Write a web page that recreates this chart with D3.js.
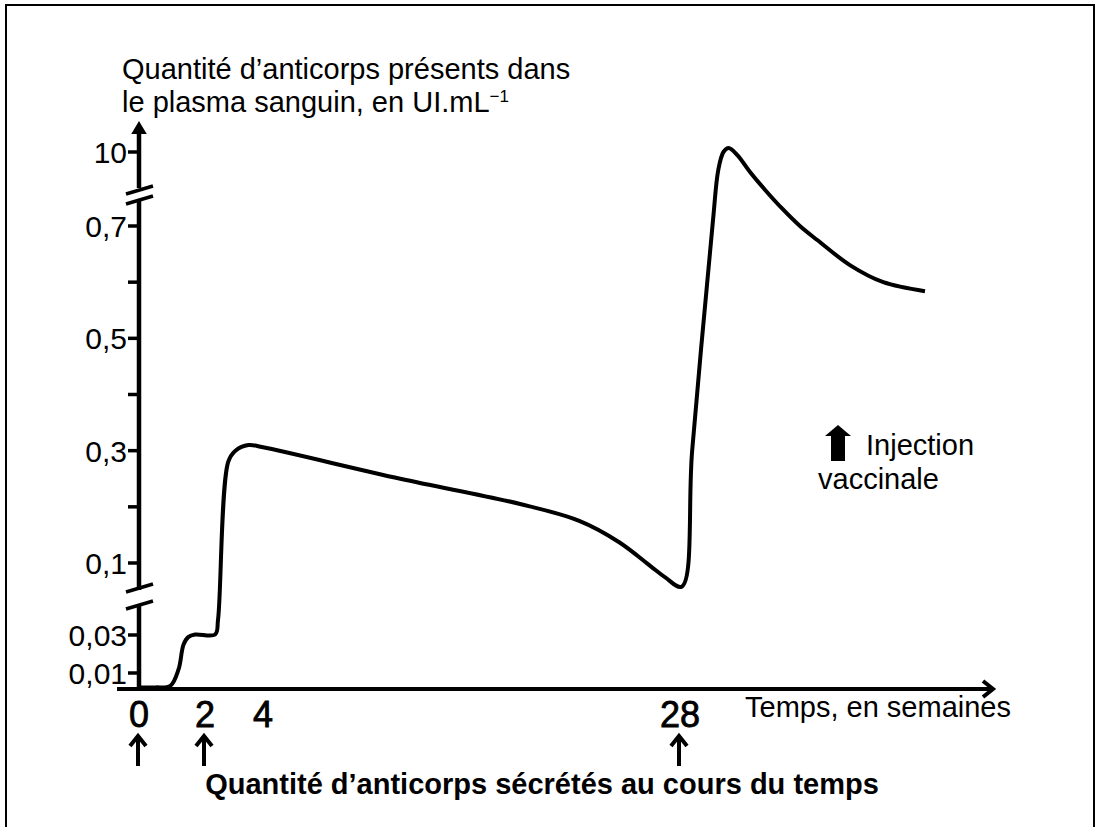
<!DOCTYPE html>
<html>
<head>
<meta charset="utf-8">
<script src="https://cdn.jsdelivr.net/npm/d3@7"></script>
<style>
  body { margin: 0; background: #fff; }
  text { font-family: "Liberation Sans", Arial, sans-serif; fill: #000; }
</style>
</head>
<body>
<div id="antibodyPlot"></div>
<script>
// data (weeks, UI/mL)
const weeks = [0, 0.5, 0.95, 1.2, 1.35, 1.5, 1.7, 2.35, 2.45, 2.8, 3.05, 3.5, 4, 11.9, 18.8, 22.2, 24.5, 26.3, 27.15, 28.1,
    28.7, 29.9, 30.2, 30.5, 30.8, 31.3, 32.03, 32.9, 33.9, 34.9, 35.9, 37.8, 39.7, 42.1]
const antibodies = [0.001, 0.001, 0.002, 0.012, 0.025, 0.029, 0.0305, 0.0305, 0.045, 0.28, 0.3, 0.31, 0.306, 0.25, 0.205, 0.175, 0.137, 0.097, 0.086, 0.077,
    0.3, 1.45, 7.7, 10, 10.5, 9.62, 7.49, 5.23, 2.84, 0.7, 0.675, 0.63, 0.6, 0.584]

// the axes are not drawn to scale: both are broken / piecewise
const xBreaks = [0, 2, 4, 28]
const yBreaks = [0, 0.01, 0.03, 0.1, 0.7, 10]

const xTickValues = [0, 2, 4, 28]
const xTickLabels = ["0", "2", "4", "28"]
const injectionWeeks = [0, 2, 28]

const yTickValues = [0.01, 0.03, 0.1, 0.3, 0.5, 0.7, 10]
const yTickLabels = ["0,01", "0,03", "0,1", "0,3", "0,5", "0,7", "10"]
const yMinorTicks = [0.2, 0.4, 0.6]

const width = 1099, height = 827

const x = d3.scaleLinear().domain(xBreaks).range([139, 205, 263, 680])
const y = d3.scaleLinear().domain(yBreaks).range([689, 673, 635, 563, 226, 152])

const svg = d3.select("#antibodyPlot")
    .append("svg")
    .attr("width", width)
    .attr("height", height)

// frame (open at the bottom)
svg.append("path")
    .attr("d", `M6,${height} V5 H1094 V${height}`)
    .attr("fill", "none")
    .attr("stroke", "#000")
    .attr("stroke-width", 2)

const x0 = x(0), yBase = y(0)

// x axis with arrow
svg.append("line")
    .attr("x1", 117).attr("x2", 992)
    .attr("y1", yBase).attr("y2", yBase)
    .attr("stroke", "#000").attr("stroke-width", 4)
svg.append("path")
    .attr("d", `M983,${yBase - 8} L993,${yBase} L983,${yBase + 8}`)
    .attr("fill", "none").attr("stroke", "#000").attr("stroke-width", 4)

// y axis, split at the two breaks
const yAxisSegments = [
    [yBase + 2, 605],
    [590, 200],
    [188, 130]
]
yAxisSegments.forEach(([a, b]) => {
    svg.append("line")
        .attr("x1", x0).attr("x2", x0)
        .attr("y1", a).attr("y2", b)
        .attr("stroke", "#000").attr("stroke-width", 4.5)
})
svg.append("path")
    .attr("d", `M${x0 - 6},${133} L${x0},${123} L${x0 + 6},${133} Z`)
    .attr("fill", "#000").attr("stroke", "#000").attr("stroke-width", 2)

// break marks
const breakMarks = [[190, 200], [588, 605]]
breakMarks.forEach(([a, b]) => {
    [a, b].forEach(yy => {
        svg.append("line")
            .attr("x1", x0 - 13).attr("x2", x0 + 14)
            .attr("y1", yy + 4).attr("y2", yy - 4)
            .attr("stroke", "#000").attr("stroke-width", 3.5)
    })
})

// y ticks + labels
yTickValues.concat(yMinorTicks).forEach(v => {
    svg.append("line")
        .attr("x1", x0 - 11).attr("x2", x0)
        .attr("y1", y(v)).attr("y2", y(v))
        .attr("stroke", "#000").attr("stroke-width", 3.5)
})
svg.selectAll(".ylab")
    .data(yTickValues)
    .enter().append("text")
    .attr("class", "ylab")
    .attr("x", 127)
    .attr("y", d => y(d) + 11)
    .attr("text-anchor", "end")
    .style("font-size", "30px")
    .text((d, i) => yTickLabels[i])

// x tick labels
svg.selectAll(".xlab")
    .data(xTickValues)
    .enter().append("text")
    .attr("class", "xlab")
    .attr("x", d => x(d))
    .attr("y", 727)
    .attr("text-anchor", "middle")
    .style("font-size", "36px")
    .style("stroke", "#000")
    .style("stroke-width", 0.8)
    .text((d, i) => xTickLabels[i])

// injection arrows under the axis
injectionWeeks.forEach(w => {
    const cx = x(w) - 1
    svg.append("path")
        .attr("d", `M${cx},766 V737 M${cx - 8},746 L${cx},736 L${cx + 8},746`)
        .attr("fill", "none").attr("stroke", "#000").attr("stroke-width", 4)
})

// the curve
const line = d3.line()
    .x((d, i) => x(weeks[i]))
    .y(d => y(d))
    .curve(d3.curveCatmullRom.alpha(0.5))

svg.append("path")
    .datum(antibodies)
    .attr("d", line)
    .attr("fill", "none")
    .attr("stroke", "#000")
    .attr("stroke-width", 4)
    .attr("stroke-linejoin", "round")

// axis titles
svg.append("text")
    .attr("x", 122).attr("y", 79)
    .style("font-size", "29px")
    .text("Quantité d’anticorps présents dans")
const yTitle2 = svg.append("text")
    .attr("x", 122).attr("y", 112)
    .style("font-size", "29px")
yTitle2.append("tspan").text("le plasma sanguin, en UI.mL")
yTitle2.append("tspan").attr("dy", -10).style("font-size", "17px").text("−1")

svg.append("text")
    .attr("x", 745).attr("y", 717)
    .style("font-size", "29px")
    .text("Temps, en semaines")

// legend
svg.append("path")
    .attr("d", "M838,425 L851,436 L845,436 L845,461 L831,461 L831,436 L825,436 Z")
    .attr("fill", "#000")
svg.append("text")
    .attr("x", 866).attr("y", 455)
    .style("font-size", "29px")
    .text("Injection")
svg.append("text")
    .attr("x", 818).attr("y", 489)
    .style("font-size", "29px")
    .text("vaccinale")

// caption
svg.append("text")
    .attr("x", 542).attr("y", 794)
    .attr("text-anchor", "middle")
    .style("font-size", "29px")
    .style("font-weight", "bold")
    .text("Quantité d’anticorps sécrétés au cours du temps")
</script>
</body>
</html>
